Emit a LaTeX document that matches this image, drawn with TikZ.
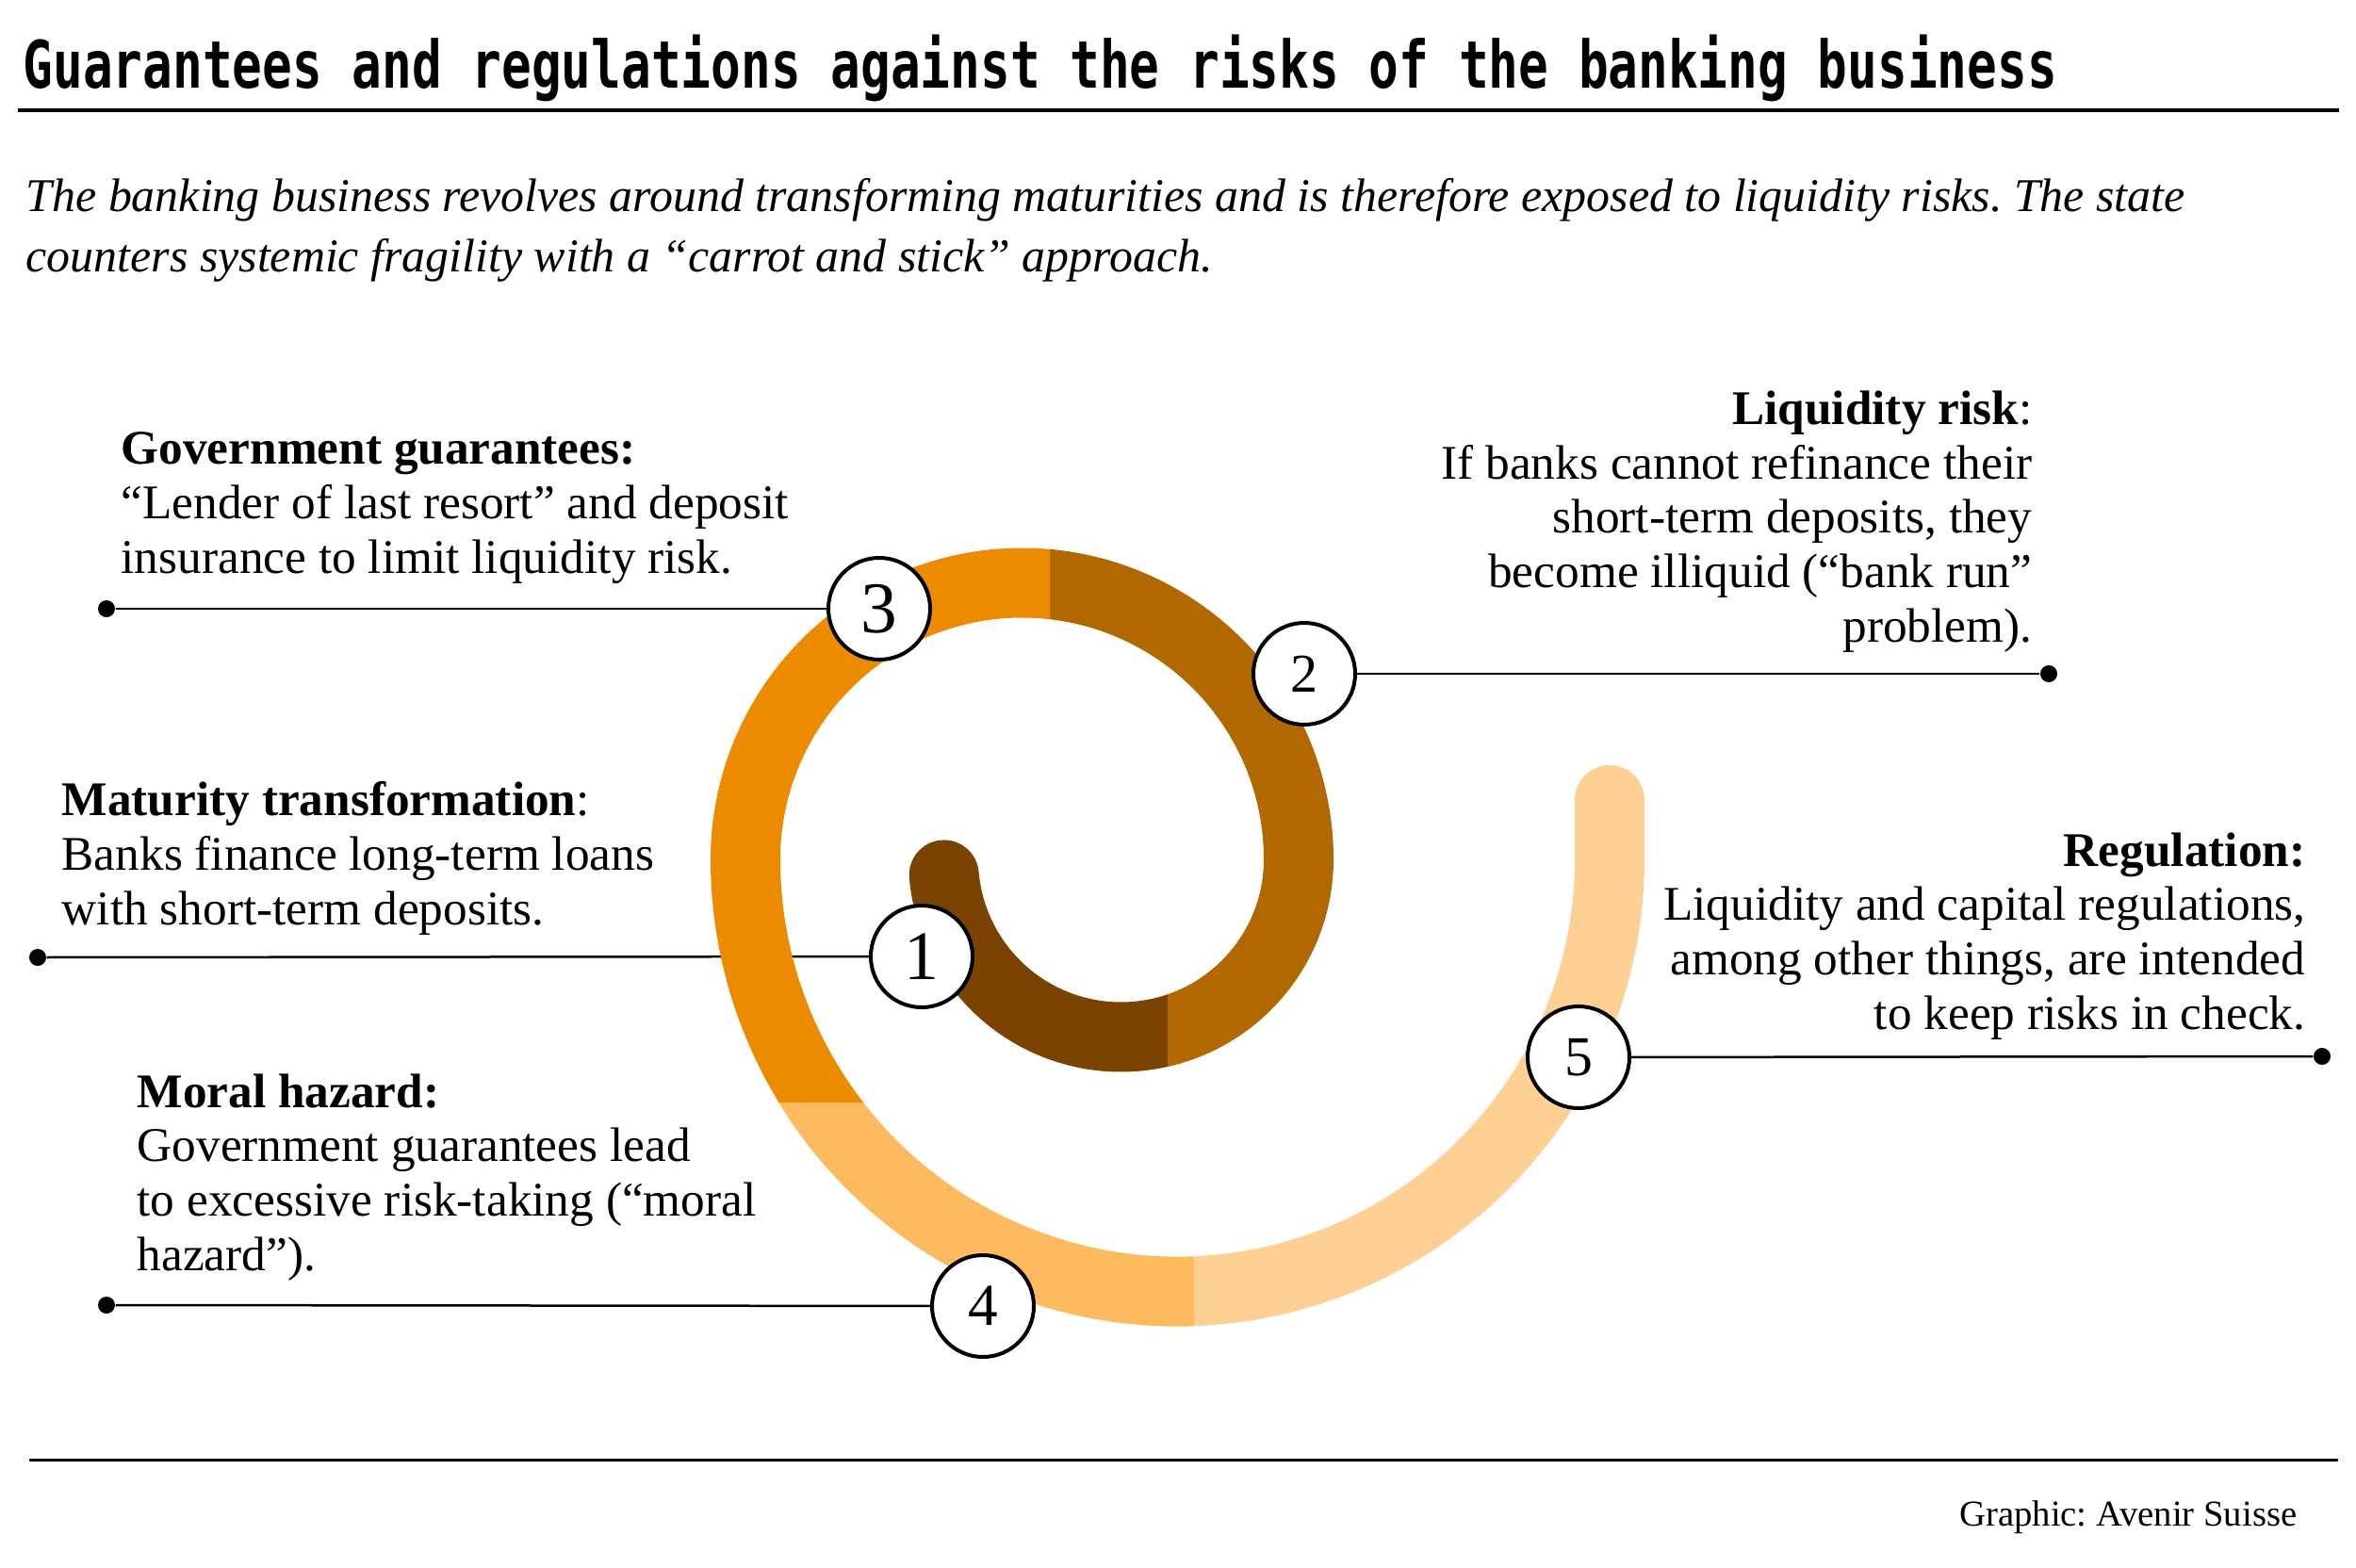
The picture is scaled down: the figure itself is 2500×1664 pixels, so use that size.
\documentclass[tikz,border=0pt]{standalone}
\usepackage{fontspec}
\setmainfont{Liberation Serif}
\newfontfamily\headfont{DejaVu Sans Mono}
\usepackage{graphicx}
\usepackage{tikz}
\usetikzlibrary{arrows}
\tikzset{>=latex}
\frenchspacing

\definecolor{bandA}{HTML}{7A4400}
\definecolor{bandB}{HTML}{B26800}
\definecolor{bandC}{HTML}{EC8B00}
\definecolor{bandD}{HTML}{FDBA5E}
\definecolor{bandE}{HTML}{FED093}

\newcommand{\bodyfont}{\fontsize{14.6pt}{16.4pt}\selectfont}
\tikzset{
  txt/.style={inner sep=0pt, font=\bodyfont},
  numcirc/.style={circle, draw, line width=0.4mm, fill=white, minimum size=10.8mm, inner sep=0pt},
  dot/.style={circle, fill=black, inner sep=0pt, minimum size=1.8mm},
  leader/.style={line width=0.25mm},
  band/.style={line width=7.4mm}
}
\pgfdeclarelayer{bg}
\pgfdeclarelayer{spiral}
\pgfsetlayers{bg,spiral,main}

\begin{document}
\begin{tikzpicture}[x=0.1mm, y=0.1mm]
    \useasboundingbox (0,0) rectangle (2500,-1664);
    % title and intro
    \node[inner sep=0pt, anchor=base west] (title) at (24,-93)
      {\scalebox{1}[1.32]{\headfont\bfseries\fontsize{15pt}{18pt}\selectfont Guarantees and regulations against the risks of the banking business}};
    \draw[line width=0.4mm] (19,-117) -- (2482,-117);
    % base of a multi-line node = its last line
    \node[inner sep=0pt, anchor=base west, align=left, font=\itshape\fontsize{14.2pt}{18.2pt}\selectfont] (intro) at (27,-288)
      {The banking business revolves around transforming maturities and is therefore exposed to liquidity risks. The state\\
       counters systemic fragility with a “carrot and stick” approach.};

    % numbered circles
    \node[numcirc, font=\fontsize{21pt}{24pt}\selectfont] (c1) at (978,-1015) {1};
    \node[numcirc, font=\fontsize{16.5pt}{20pt}\selectfont] (c2) at (1384,-715) {2};
    \node[numcirc, font=\fontsize{22pt}{24pt}\selectfont] (c3) at (933,-646) {3};
    \node[numcirc, font=\fontsize{18pt}{20pt}\selectfont] (c4) at (1043,-1386) {4};
    \node[numcirc, font=\fontsize{17pt}{20pt}\selectfont] (c5) at (1675,-1122) {5};

    % end dots
    \node[dot] (d1) at (40,-1016) {};
    \node[dot] (d2) at (2174,-715) {};
    \node[dot] (d3) at (113,-646) {};
    \node[dot] (d4) at (113,-1385) {};
    \node[dot] (d5) at (2464,-1121) {};

    \begin{pgfonlayer}{bg}
      \draw[leader] (d1) -- (c1);
      \draw[leader] (c2) -- (d2);
      \draw[leader] (d3) -- (c3);
      \draw[leader] (d4) -- (c4);
      \draw[leader] (c5) -- (d5);
    \end{pgfonlayer}

    % spiral, one colour per piece
    \begin{pgfonlayer}{spiral}
      \begin{scope}
        \clip (0,0) rectangle (1239,-1664);
        \draw[band, bandA, line cap=round] (1189.5,-912) ++(185:188.5) arc (185:300:188.5);
      \end{scope}
      \begin{scope}
        \clip (1114,0) -- (2500,0) -- (2500,-1664) -- (1239,-1664) -- (1239,-912) -- (1114,-912) -- cycle;
        \draw[band, bandB] (1189.5,-912) ++(280:188.5) arc (280:360:188.5) arc (0:100:293.5);
      \end{scope}
      \begin{scope}
        \clip (0,0) rectangle (1114,-1170);
        \draw[band, bandC] (1084.5,-912) ++(80:293.5) arc (80:180:293.5) arc (180:235:458.5);
      \end{scope}
      \begin{scope}
        \clip (0,-1170) rectangle (1267,-1664);
        \draw[band, bandD] (1249.5,-912) ++(200:458.5) arc (200:290:458.5);
      \end{scope}
      \begin{scope}
        \clip (1267,0) rectangle (2500,-1664);
        \draw[band, bandE, line cap=round] (1249.5,-912) ++(260:458.5) arc (260:360:458.5) -- ++(0,63);
      \end{scope}
    \end{pgfonlayer}

    % texts
    \node[txt, anchor=base west, align=left] (t3) at (128,-608)
      {\textbf{Government guarantees:}\\“Lender of last resort” and deposit\\insurance to limit liquidity risk.};
    \node[txt, anchor=base west, align=left] (t1) at (65,-981)
      {\textbf{Maturity transformation}:\\Banks finance long-term loans\\with short-term deposits.};
    \node[txt, anchor=base west, align=left] (t4) at (145,-1348)
      {\textbf{Moral hazard:}\\Government guarantees lead\\to excessive risk-taking (“moral\\hazard”).};
    \node[txt, anchor=base east, align=right] (t2) at (2157,-681)
      {\textbf{Liquidity risk}:\\If banks cannot refinance their\\short-term deposits, they\\become illiquid (“bank run”\\problem).};
    \node[txt, anchor=base east, align=right] (t5) at (2447,-1092)
      {\textbf{Regulation:}\\Liquidity and capital regulations,\\among other things, are intended\\to keep risks in check.};

    % footer
    \draw[line width=0.3mm] (31,-1549) -- (2481,-1549);
    \node[inner sep=0pt, anchor=base east, font=\fontsize{11pt}{13pt}\selectfont] (credit) at (2438,-1619) {Graphic: Avenir Suisse};
\end{tikzpicture}
\end{document}
